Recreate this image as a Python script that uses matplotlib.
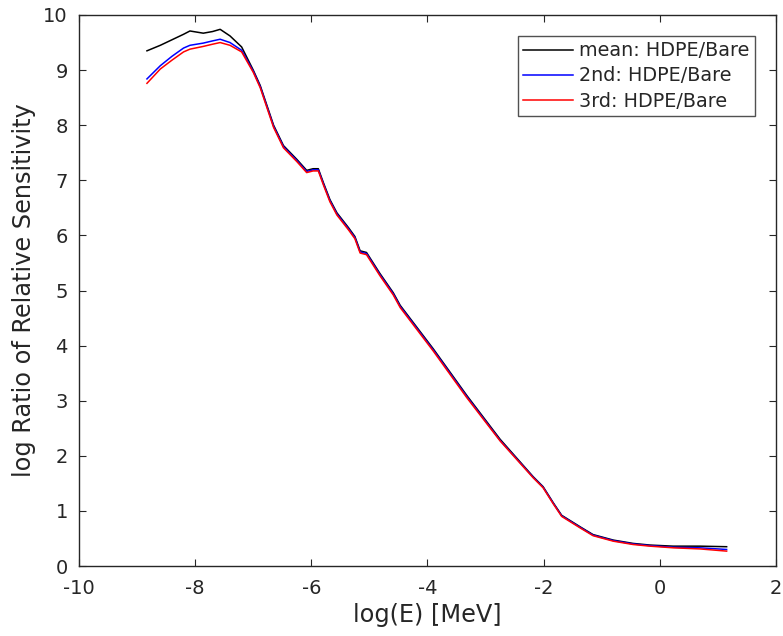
import matplotlib
matplotlib.use("Agg")
import matplotlib.pyplot as plt

# Data
log_e = [-8.83, -8.6, -8.4, -8.2, -8.09, -7.86, -7.7, -7.57, -7.4, -7.2, -7.0,
         -6.88, -6.65, -6.48, -6.25, -6.08, -5.97, -5.88, -5.79, -5.68, -5.56,
         -5.36, -5.25, -5.16, -5.05, -4.82, -4.59, -4.47, -3.90, -3.32, -2.75,
         -2.18, -2.01, -1.83, -1.69, -1.37, -1.15, -0.80, -0.46, -0.17, 0.23,
         0.69, 1.15]

mean_ratio = [9.35, 9.45, 9.55, 9.65, 9.71, 9.67, 9.70, 9.74, 9.62, 9.42, 9.00,
              8.72, 8.00, 7.63, 7.38, 7.18, 7.21, 7.21, 6.95, 6.65, 6.41,
              6.14, 5.98, 5.72, 5.69, 5.31, 4.96, 4.73, 3.94, 3.09, 2.30,
              1.62, 1.44, 1.14, 0.92, 0.71, 0.57, 0.47, 0.41, 0.38, 0.36,
              0.36, 0.35]

second_ratio = [8.84, 9.08, 9.25, 9.40, 9.45, 9.49, 9.53, 9.56, 9.50, 9.36, 8.98,
                8.70, 7.98, 7.61, 7.36, 7.16, 7.19, 7.19, 6.93, 6.63, 6.39,
                6.12, 5.96, 5.70, 5.67, 5.29, 4.94, 4.71, 3.92, 3.07, 2.28,
                1.61, 1.43, 1.13, 0.91, 0.70, 0.56, 0.46, 0.40, 0.37, 0.34,
                0.33, 0.30]

third_ratio = [8.76, 9.02, 9.18, 9.33, 9.38, 9.43, 9.47, 9.50, 9.45, 9.33, 8.96,
               8.68, 7.96, 7.59, 7.34, 7.14, 7.17, 7.17, 6.91, 6.61, 6.37,
               6.10, 5.94, 5.68, 5.65, 5.27, 4.92, 4.69, 3.90, 3.05, 2.27,
               1.60, 1.42, 1.12, 0.90, 0.69, 0.55, 0.45, 0.39, 0.36, 0.33,
               0.31, 0.27]

x_ticks = [-10, -8, -6, -4, -2, 0, 2]
y_ticks = [0, 1, 2, 3, 4, 5, 6, 7, 8, 9, 10]

plt.rcParams['font.family'] = ['DejaVu Sans']
plt.rcParams['axes.unicode_minus'] = False
fig = plt.figure(figsize=(7.83, 6.36), dpi=100)
ax = fig.add_axes([79/783, 70/636, 697/783, 551/636])

ax.plot(log_e, mean_ratio, color='black', lw=1.1, label='mean: HDPE/Bare')
ax.plot(log_e, second_ratio, color='blue', lw=1.1, label='2nd: HDPE/Bare')
ax.plot(log_e, third_ratio, color='red', lw=1.1, label='3rd: HDPE/Bare')

ax.set_xlim(-10, 2)
ax.set_ylim(0, 10)
ax.set_xticks(x_ticks)
ax.set_yticks(y_ticks)

axc = '#262626'
for s in ax.spines.values():
    s.set_color(axc)
    s.set_linewidth(1.0)
ax.tick_params(direction='in', top=True, right=True, length=5, width=0.8,
               color=axc, labelcolor=axc, labelsize=14)
ax.tick_params(axis='x', pad=9)
ax.tick_params(axis='y', pad=8)

ax.set_xlabel('log(E) [MeV]', fontsize=17.3, color=axc, labelpad=4)
ax.set_ylabel('log Ratio of Relative Sensitivity', fontsize=17.3, color=axc, labelpad=5)

leg = ax.legend(loc='upper right', bbox_to_anchor=(0.970, 0.962), borderaxespad=0,
                fontsize=13.8, frameon=True, fancybox=False, handlelength=2.6,
                handletextpad=0.33, labelspacing=0.32, borderpad=0.28)
leg.get_frame().set_edgecolor(axc)
leg.get_frame().set_linewidth(1.0)
for t in leg.get_texts():
    t.set_color(axc)

fig.savefig('out.png', dpi=100)
